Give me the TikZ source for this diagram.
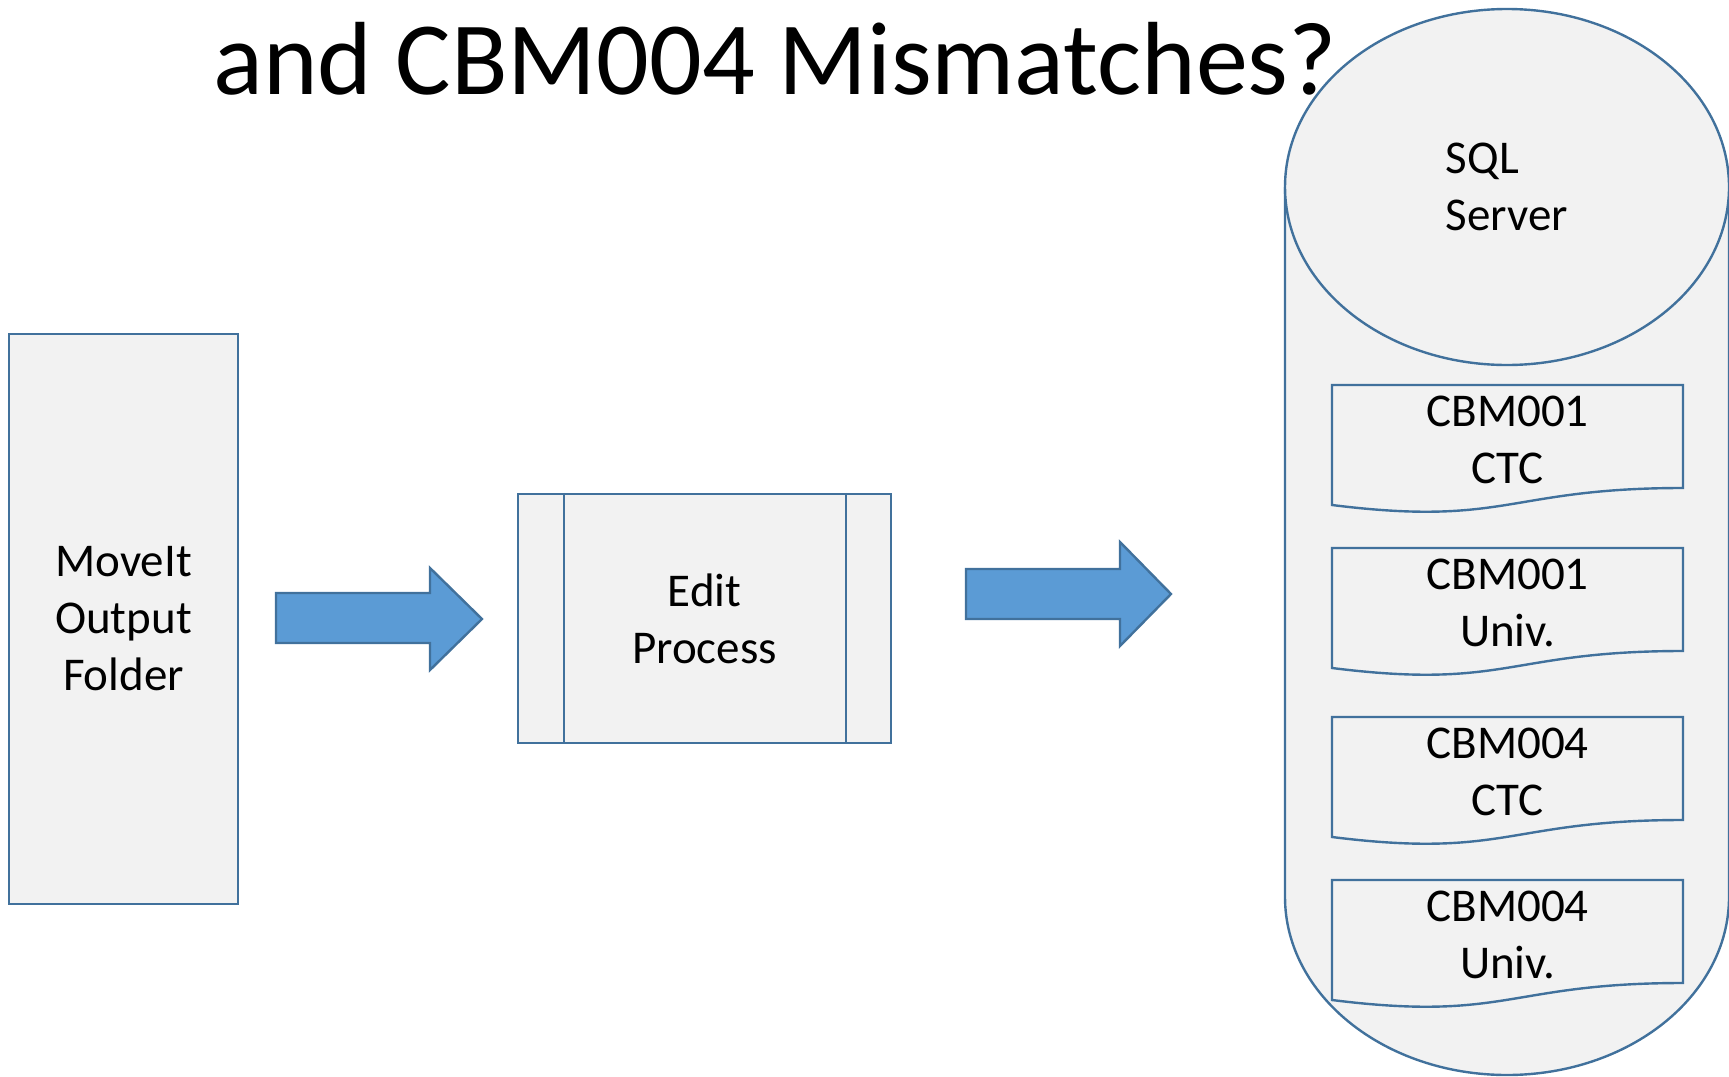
\documentclass[tikz,border=0pt]{standalone}
\usepackage{fontspec}
\setmainfont{Carlito}
\usetikzlibrary{shapes.geometric}
\definecolor{boxline}{HTML}{41719C}
\definecolor{boxfill}{HTML}{F2F2F2}
\definecolor{arrowfill}{HTML}{5B9BD5}
\tikzset{
  box/.style={rectangle, draw=boxline, fill=boxfill, line width=1.2pt, inner sep=0pt, align=center, font=\fontsize{23.5}{28.5}\selectfont},
  docline/.style={draw=boxline, fill=boxfill, line width=1.2pt},
  doctext/.style={align=center, inner sep=0pt, font=\fontsize{23.5}{28.5}\selectfont},
  blockarrow/.style={draw=boxline, fill=arrowfill, line width=1.2pt, line join=miter},
}
\begin{document}
\begin{tikzpicture}[x=0.5pt,y=-0.5pt]
\useasboundingbox (0,0) rectangle (1729,1076);
% database cylinder
\draw[docline] (1285,187) -- (1285,897) arc[start angle=180, end angle=360, x radius=111pt, y radius=89pt] -- (1729,187);
\node[box, ellipse, align=left, minimum width=222pt, minimum height=178pt] (sqltop) at (1507,187) {SQL\\Server};
% tables
\draw[docline] (1332,385) -- (1683,385) -- (1683,488) .. controls (1507.5,488) and (1507.5,527) .. (1332,505) -- cycle;
\node[doctext] (c1ctc) at (1507.5,440) {CBM001\\CTC};
\draw[docline] (1332,548) -- (1683,548) -- (1683,651) .. controls (1507.5,651) and (1507.5,690) .. (1332,668) -- cycle;
\node[doctext] (c1univ) at (1507.5,603) {CBM001\\Univ.};
\draw[docline] (1332,717) -- (1683,717) -- (1683,820) .. controls (1507.5,820) and (1507.5,859) .. (1332,837) -- cycle;
\node[doctext] (c4ctc) at (1507.5,772) {CBM004\\CTC};
\draw[docline] (1332,880) -- (1683,880) -- (1683,983) .. controls (1507.5,983) and (1507.5,1022) .. (1332,1000) -- cycle;
\node[doctext] (c4univ) at (1507.5,935) {CBM004\\Univ.};
% folder and process
\node[box, minimum width=114.5pt, minimum height=285pt] (folder) at (123.5,619) {MoveIt\\Output\\Folder};
\node[box, minimum width=186.5pt, minimum height=124.5pt] (edit) at (704.5,618.5) {Edit\\Process};
\draw[draw=boxline, line width=1.2pt] ([xshift=23.5pt]edit.north west) -- ([xshift=23.5pt]edit.south west);
\draw[draw=boxline, line width=1.2pt] ([xshift=-23pt]edit.north east) -- ([xshift=-23pt]edit.south east);
% block arrows
\draw[blockarrow] (276,593) -- (430,593) -- (430,568) -- (482,619) -- (430,670) -- (430,643) -- (276,643) -- cycle;
\draw[blockarrow] (966,569) -- (1120,569) -- (1120,542) -- (1171,594) -- (1120,646) -- (1120,619) -- (966,619) -- cycle;
% title
\node[anchor=base, inner sep=0pt, font=\fontsize{52}{60}\selectfont] (title) at (775,94) {and CBM004 Mismatches?};
\end{tikzpicture}
\end{document}
